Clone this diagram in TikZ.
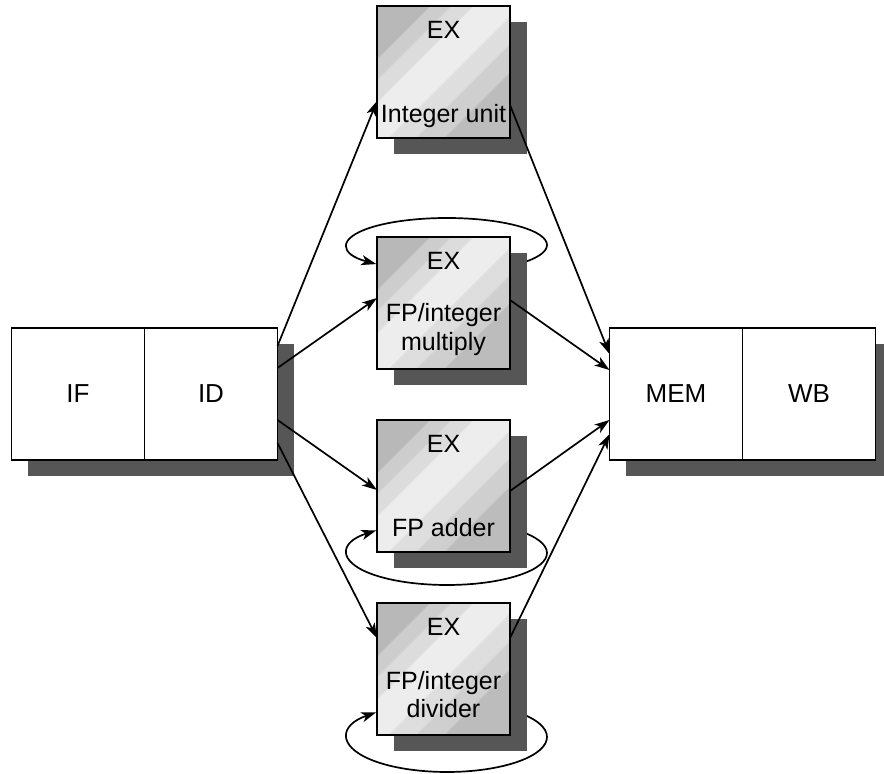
\documentclass[tikz,border=0pt]{standalone}
\usepackage{fontspec}
\setmainfont{Liberation Sans}
\usetikzlibrary{positioning,arrows.meta,shadows}
\pgfdeclarelayer{background}
\pgfsetlayers{background,main}

\definecolor{shadowgray}{HTML}{565656}
\definecolor{bandA}{HTML}{B8B8B8}
\definecolor{bandB}{HTML}{CDCDCD}
\definecolor{bandC}{HTML}{DCDCDC}
\definecolor{bandD}{HTML}{EDEDED}
\definecolor{bandE}{HTML}{DEDEDE}
\definecolor{bandF}{HTML}{CFCFCF}
\definecolor{bandG}{HTML}{BCBCBC}

\pgfdeclarehorizontalshading{exband}{100bp}{color(0bp)=(bandA); color(28.2bp)=(bandA);
  color(28.8bp)=(bandB); color(33.8bp)=(bandB); color(34.4bp)=(bandC); color(39.8bp)=(bandC);
  color(40.4bp)=(bandD); color(52.4bp)=(bandD); color(53bp)=(bandE); color(59.8bp)=(bandE);
  color(60.4bp)=(bandF); color(67.4bp)=(bandF); color(68bp)=(bandG); color(100bp)=(bandG)}

\tikzset{
  boxshadow/.style={drop shadow={shadow xshift=16.5pt, shadow yshift=-16.5pt,
      fill=shadowgray, opacity=1}},
  stagebox/.style={draw, line width=1.8pt, fill=white, minimum width=133pt,
    minimum height=132pt, inner sep=0pt, outer sep=0pt,
    font=\fontsize{26}{31}\selectfont, boxshadow},
  exbox/.style={draw, line width=1.8pt, shading=exband, shading angle=-45,
    minimum width=133pt, minimum height=132pt, inner sep=0pt, outer sep=0pt, boxshadow},
  extext/.style={font=\fontsize{25}{29}\selectfont, anchor=base, inner sep=0pt, align=center},
  flow/.style={line width=1.7pt, -{Stealth[length=15pt,width=10pt,inset=4pt]}},
  loopline/.style={flow}
}

\begin{document}
\begin{tikzpicture}[x=1pt, y=1pt]
\useasboundingbox (0,0) rectangle (884,774);

% pipeline stages
\node[stagebox] (IF) at (78,380) {IF};
\node[stagebox, right=0pt of IF] (ID) {ID};
\node[stagebox] (MEM) at (676,380) {MEM};
\node[stagebox, right=0pt of MEM] (WB) {WB};

% execution units
\node[exbox] (intu) at (443.5,702) {};
\node[exbox] (mult) at (443.5,471) {};
\node[exbox] (add) at (443.5,288) {};
\node[exbox] (div) at (443.5,105) {};

\node[extext] (intu-ex) at ([yshift=-33]intu.north) {EX};
\node[extext] (intu-l) at ([yshift=-117]intu.north) {Integer unit};
\node[extext] (mult-ex) at ([yshift=-33]mult.north) {EX};
\node[extext] (mult-l) at ([yshift=-114]mult.north) {FP/integer\\multiply};
\node[extext] (add-ex) at ([yshift=-33]add.north) {EX};
\node[extext] (add-l) at ([yshift=-117]add.north) {FP adder};
\node[extext] (div-ex) at ([yshift=-33]div.north) {EX};
\node[extext] (div-l) at ([yshift=-115]div.north) {FP/integer\\divider};

% repeat loops, behind the units
\begin{pgfonlayer}{background}
\draw[loopline] ([shift={(3.5,-8)}]mult.north) ++(-40:100 and 27)
  arc[start angle=-40, end angle=225, x radius=100, y radius=27];
\draw[loopline] ([shift={(3.5,-1)}]add.south) ++(40:100 and 32)
  arc[start angle=40, end angle=-225, x radius=100, y radius=32];
\draw[loopline] ([shift={(3.5,-2)}]div.south) ++(40:100 and 35)
  arc[start angle=40, end angle=-225, x radius=100, y radius=35];
\end{pgfonlayer}

% issue and completion
\draw[flow] ([yshift=48]ID.east) -- ([yshift=-29]intu.west);
\draw[flow] ([yshift=26]ID.east) -- ([yshift=5]mult.west);
\draw[flow] ([yshift=-26]ID.east) -- ([yshift=-4]add.west);
\draw[flow] ([yshift=-49]ID.east) -- ([yshift=31]div.west);
\draw[flow] ([yshift=-33]intu.east) -- ([yshift=40]MEM.west);
\draw[flow] ([yshift=3]mult.east) -- ([yshift=24]MEM.west);
\draw[flow] ([yshift=-5]add.east) -- ([yshift=-26]MEM.west);
\draw[flow] ([yshift=31]div.east) -- ([yshift=-40]MEM.west);
\end{tikzpicture}
\end{document}
